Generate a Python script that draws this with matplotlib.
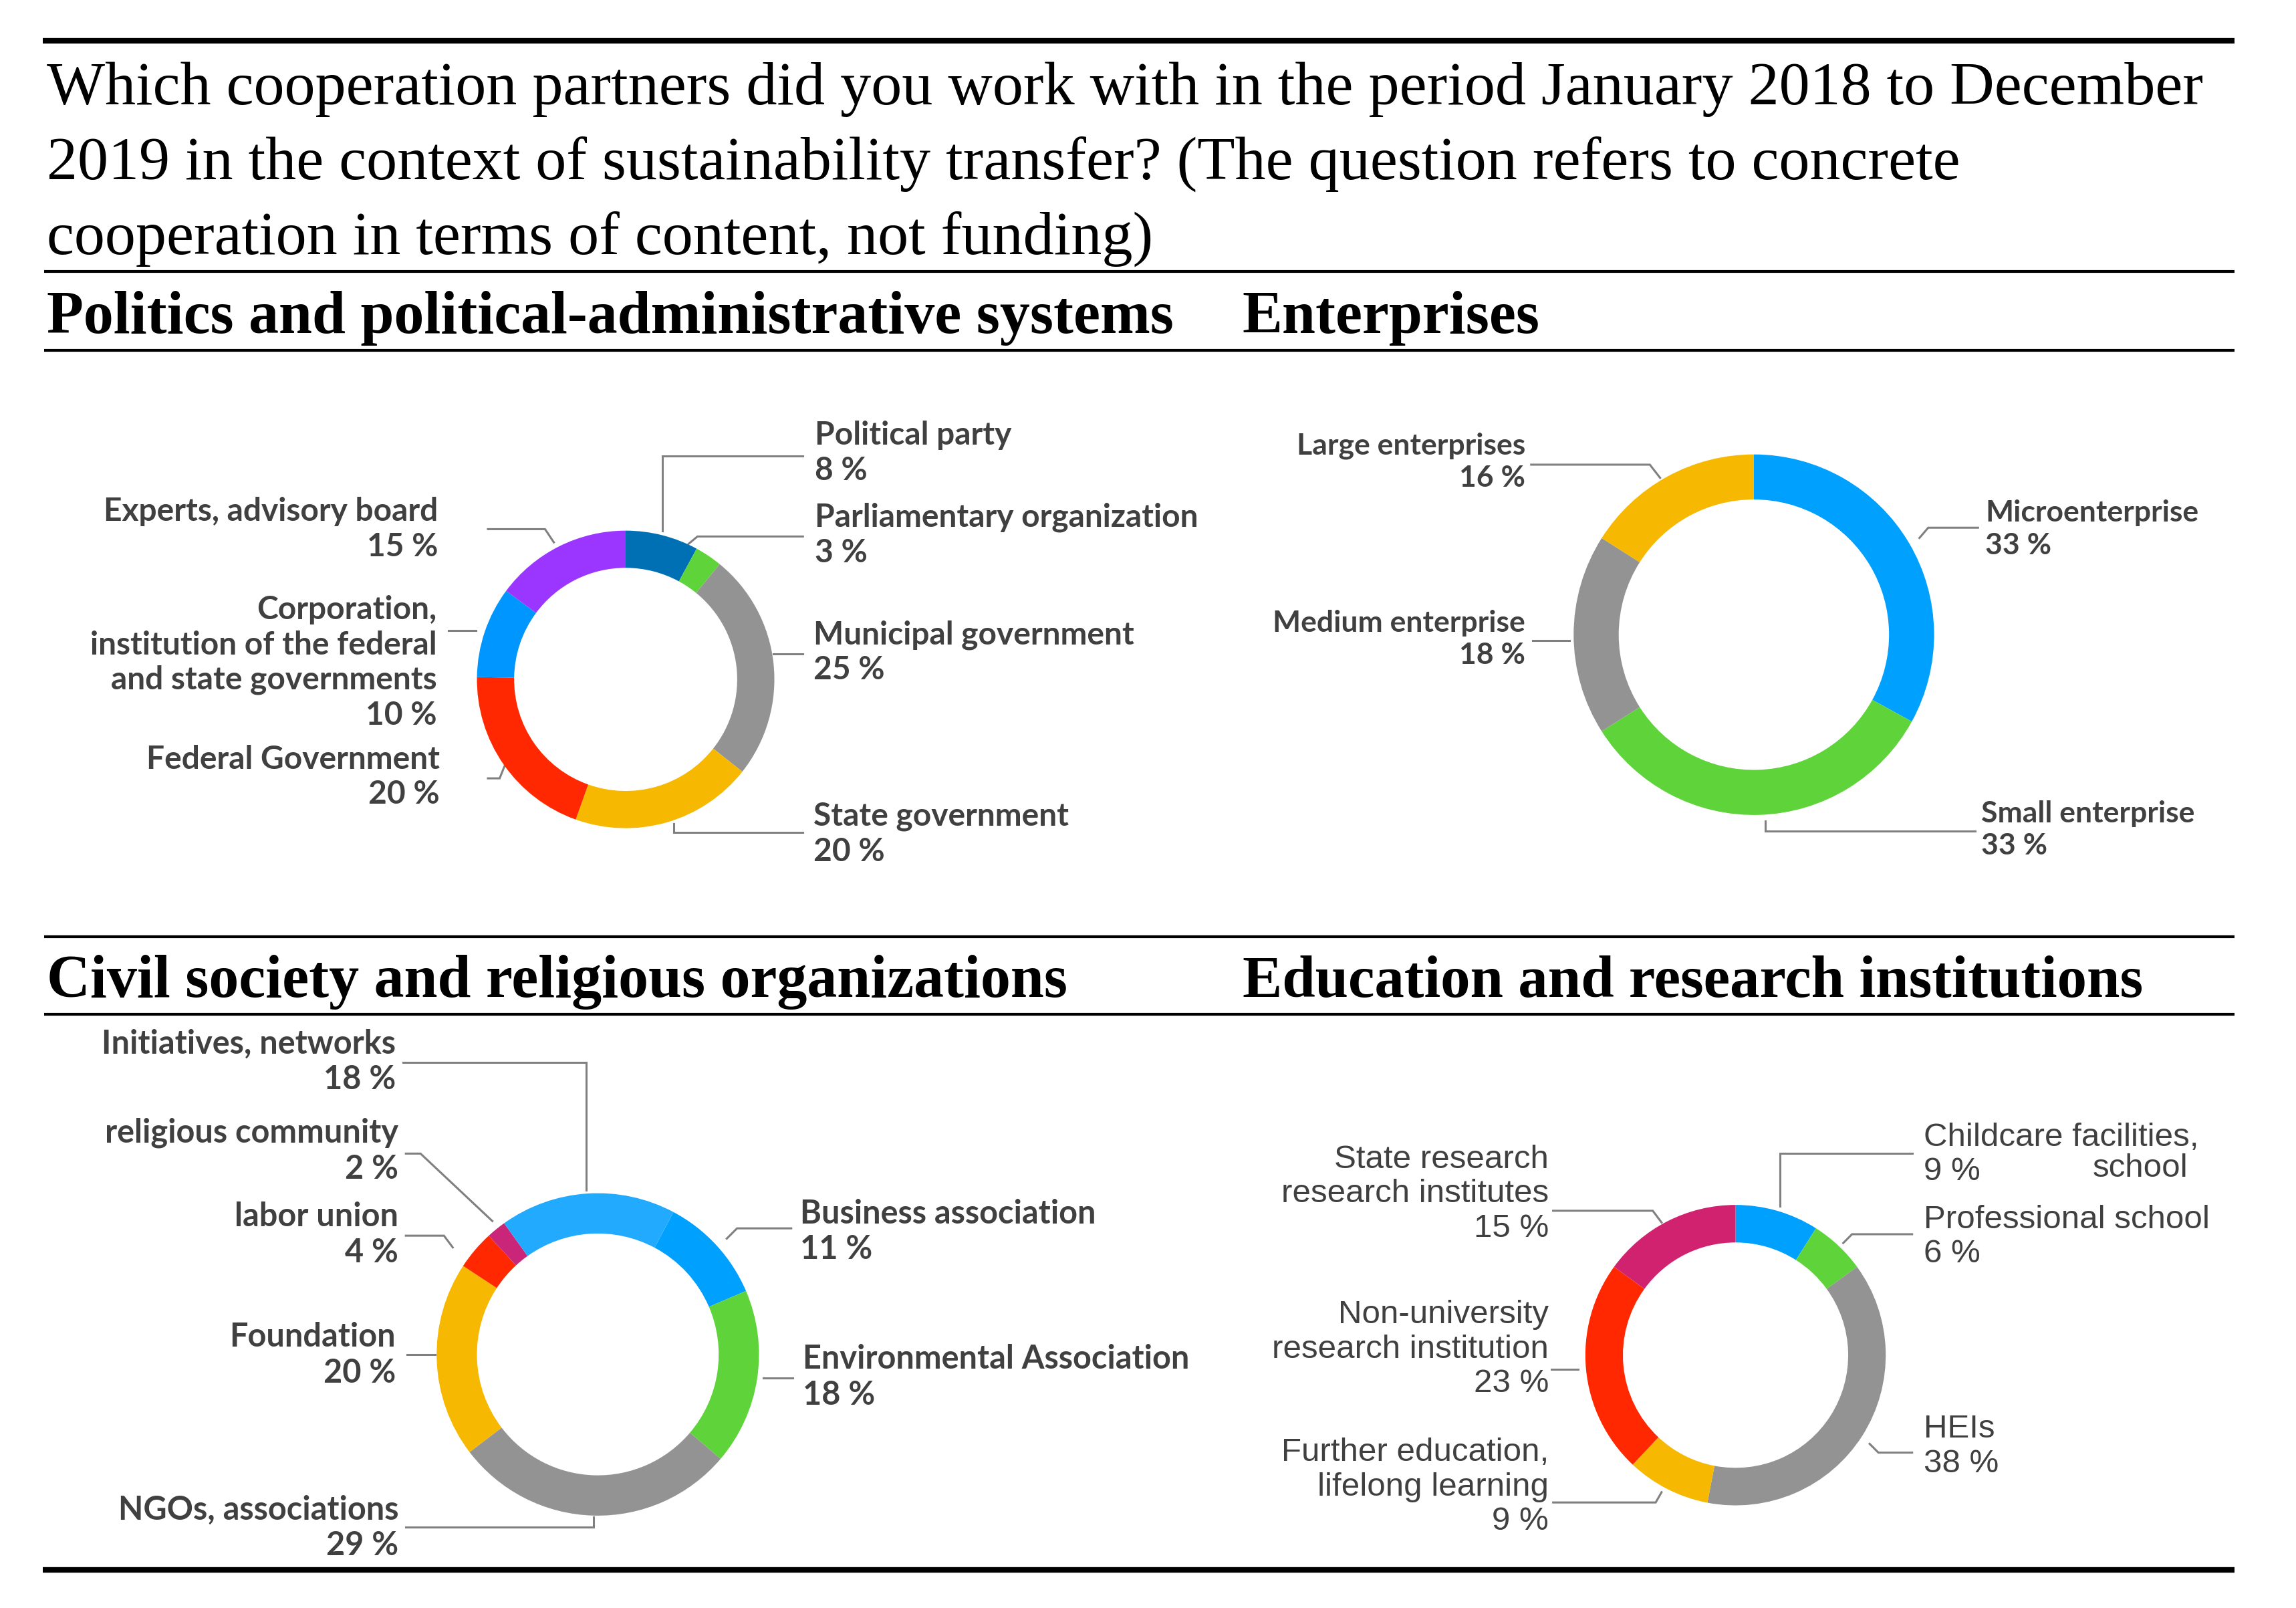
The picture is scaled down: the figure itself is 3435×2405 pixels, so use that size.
import matplotlib.pyplot as plt

# texte de la question et titres des blocs
question = ["Which cooperation partners did you work with in the period January 2018 to December",
            "2019 in the context of sustainability transfer? (The question refers to concrete",
            "cooperation in terms of content, not funding)"]
titles = ["Politics and political-administrative systems", "Enterprises",
          "Civil society and religious organizations", "Education and research institutions"]

# Politics (ordre horaire depuis le haut)
pol_cat = ["Political party", "Parliamentary organization", "Municipal government",
           "State government", "Federal Government",
           "Corporation,\ninstitution of the federal\nand state governments",
           "Experts, advisory board"]
pol_val = [8, 3, 25, 20, 20, 10, 15]
pol_col = ["#0070B4", "#5ED43A", "#939393", "#F6B800", "#FF2800", "#0096FF", "#9A36FF"]

# Enterprises
ent_cat = ["Microenterprise", "Small enterprise", "Medium enterprise", "Large enterprises"]
ent_val = [33, 33, 18, 16]
ent_col = ["#00A0FF", "#5ED43A", "#939393", "#F6B800"]

# Civil society
civ_cat = ["Business association", "Environmental Association", "NGOs, associations",
           "Foundation", "labor union", "religious community", "Initiatives, networks"]
civ_val = [11, 18, 29, 20, 4, 2, 18]
civ_col = ["#00A0FF", "#5ED43A", "#939393", "#F6B800", "#FF2800", "#C9267A", "#22AAFF"]

# Education
edu_cat = ["Childcare facilities,\nschool", "Professional school", "HEIs",
           "Further education,\nlifelong learning", "Non-university\nresearch institution",
           "State research\nresearch institutes"]
edu_val = [9, 6, 38, 9, 23, 15]
edu_col = ["#00A0FF", "#5ED43A", "#939393", "#F6B800", "#FF2800", "#D1226F"]

W, H = 1567, 1097
TXT = "#404040"
LEAD = "#808080"

fig = plt.figure(figsize=(34.35, 24.05), dpi=100)
ax0 = fig.add_axes([0, 0, 1, 1])
ax0.set_xlim(0, W)
ax0.set_ylim(H, 0)
ax0.axis("off")

# filets horizontaux
ax0.hlines([28, 1071], 29, 1525, color="black", lw=6)
ax0.hlines([185, 239, 639, 692], 30, 1525, color="black", lw=3)

for i, ligne in enumerate(question):
    ax0.text(32, 71 + i * 51, ligne, family="Liberation Serif", fontsize=66.3, va="baseline")
ax0.text(32, 227, titles[0], family="Liberation Serif", fontsize=64.7, weight="bold", va="baseline")
ax0.text(848, 227, titles[1], family="Liberation Serif", fontsize=64.7, weight="bold", va="baseline")
ax0.text(32, 680, titles[2], family="Liberation Serif", fontsize=64.7, weight="bold", va="baseline")
ax0.text(848, 680, titles[3], family="Liberation Serif", fontsize=64, weight="bold", va="baseline")


def donut(cx, cy, r, vals, cols, start):
    m = 1.03
    ax = fig.add_axes([(cx - r * m) / W, 1 - (cy + r * m) / H, 2 * r * m / W, 2 * r * m / H])
    ax.pie(vals, colors=cols, startangle=start, counterclock=False, radius=1,
           wedgeprops=dict(width=0.25, edgecolor="none"))
    ax.set_xlim(-m, m)
    ax.set_ylim(-m, m)
    ax.set_aspect("equal")
    ax.axis("off")


def label(x, y, txt, ha, step, fam, size, weight):
    for i, l in enumerate(txt.split("\n")):
        ax0.text(x, y + i * step, l, ha=ha, va="center", family=fam, fontsize=size,
                 weight=weight, color=TXT)


def lead(pts):
    ax0.plot([p[0] for p in pts], [p[1] for p in pts], color=LEAD, lw=2.2, solid_joinstyle="miter")


# --- Politics
donut(427, 463.5, 101.5, pol_val, pol_col, 90)
pol_pos = [(556, 297, "left"), (556, 353, "left"), (555, 433, "left"), (555, 557, "left"),
           (300, 518, "right"), (298, 416, "right"), (299, 349, "right")]
pol_lead = [[(452, 362), (452, 311), (548, 311)],
            [(470, 371), (476, 366), (548, 366)],
            [(528, 446), (548, 446)],
            [(460, 562), (460, 568), (548, 568)],
            [(333, 531), (341, 531), (345, 521)],
            [(306, 430), (325, 430)],
            [(333, 361), (372, 361), (378, 370)]]
for c, v, (x, y, ha), pts in zip(pol_cat, pol_val, pol_pos, pol_lead):
    label(x, y, f"{c}\n{v} %", ha, 24, "Lato", 34.5, "bold")
    lead(pts)

# --- Enterprises
donut(1197, 433, 123, ent_val, ent_col, 90)
ent_pos = [(1355, 350, "left"), (1352, 555, "left"), (1041, 425, "right"), (1041, 304, "right")]
ent_lead = [[(1310, 367), (1316, 360), (1350, 360)],
            [(1205, 560), (1205, 567), (1348, 567)],
            [(1046, 437), (1071, 437)],
            [(1045, 317), (1126, 317), (1133, 326)]]
for c, v, (x, y, ha), pts in zip(ent_cat, ent_val, ent_pos, ent_lead):
    label(x, y, f"{c}\n{v} %", ha, 22, "Lato", 32, "bold")
    lead(pts)

# --- Civil society
donut(408, 924, 110, civ_val, civ_col, 62)
civ_pos = [(546, 828, "left"), (548, 927, "left"), (272, 1030, "right"), (270, 912, "right"),
           (272, 830, "right"), (272, 773, "right"), (270, 712, "right")]
civ_lead = [[(496, 845), (503, 838), (540, 838)],
            [(521, 940), (541, 940)],
            [(405, 1035), (405, 1042), (277, 1042)],
            [(278, 924), (297, 924)],
            [(277, 843), (303, 843), (309, 851)],
            [(277, 787), (287, 787), (336, 833)],
            [(275, 725), (400, 725), (400, 812)]]
for c, v, (x, y, ha), pts in zip(civ_cat, civ_val, civ_pos, civ_lead):
    label(x, y, f"{c}\n{v} %", ha, 24.5, "Lato", 35, "bold")
    lead(pts)

# --- Education
donut(1184.5, 924.5, 102.5, edu_val, edu_col, 90)
edu_pos = [(1313, 776, "left"), (1313, 832, "left"), (1313, 975, "left"),
           (1057, 991, "right"), (1057, 897, "right"), (1057, 791, "right")]
edu_lead = [[(1215, 823), (1215, 787), (1305, 787)],
            [(1258, 848), (1264, 842), (1305, 842)],
            [(1276, 985), (1282, 991), (1305, 991)],
            [(1134, 1018), (1130, 1025), (1060, 1025)],
            [(1059, 934), (1077, 934)],
            [(1060, 826), (1128, 826), (1134, 834)]]
for i, (c, v, (x, y, ha), pts) in enumerate(zip(edu_cat, edu_val, edu_pos, edu_lead)):
    if i == 0:
        # "school" est rejeté à droite sur la ligne du pourcentage
        first, second = c.split("\n")
        label(x, y, f"{first}\n{v} %", ha, 23.5, "Liberation Sans", 35.5, "normal")
        label(1493, y + 21, second, "right", 23.5, "Liberation Sans", 35.5, "normal")
    else:
        label(x, y, f"{c}\n{v} %", ha, 23.5, "Liberation Sans", 35.5, "normal")
    lead(pts)

fig.savefig("out.png", dpi=100)
